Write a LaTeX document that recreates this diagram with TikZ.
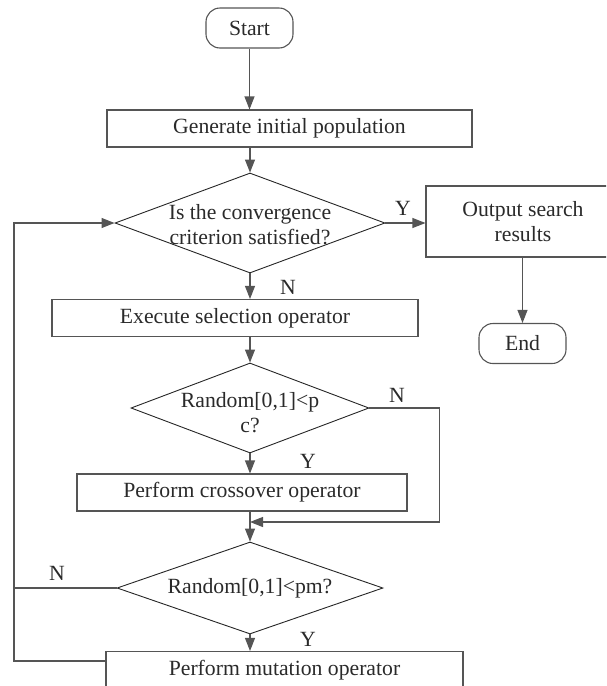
\documentclass[tikz,border=0pt]{standalone}
\usepackage{fontspec}
\setmainfont{Liberation Serif}
\usetikzlibrary{shapes.geometric,arrows.meta}

\definecolor{linegray}{HTML}{555555}
\definecolor{textgray}{HTML}{2A2A2A}

\tikzset{
  box/.style={draw=linegray, line width=1.1pt, minimum height=37pt, inner sep=0pt},
  term/.style={box, rounded corners=14pt, minimum width=87pt, minimum height=40pt},
  test/.style={diamond, draw=black!85, line width=0.9pt, inner sep=0pt},
  flow/.style={draw=linegray, line width=1.1pt, -{Triangle[length=13pt,width=10pt]}},
  wire/.style={draw=linegray, line width=1.1pt}
}

\begin{document}
\begin{tikzpicture}[x=1pt, y=-1pt, every node/.style={font=\fontsize{21.7}{25}\selectfont, text=textgray}]
  \useasboundingbox (0,0) rectangle (606,686);
  \clip (0,0) rectangle (606,686);

  \node[term] (start) at (249.5, 28) {Start};
  \node[box, minimum width=365pt] (init) at (289.5, 128.5) {Generate initial population};

  \node[test, minimum width=270pt, minimum height=100pt,
    label={[align=center, yshift=-2pt]center:Is the convergence\\criterion satisfied?}] (conv) at (250, 223) {};
  \node[box, minimum width=194pt, minimum height=71pt, align=center] (out) at (523, 221.5) {Output search\\results};
  \node[term] (end) at (522.5, 343.5) {End};

  \node[box, minimum width=366pt] (sel) at (235, 318) {Execute selection operator};

  \node[test, minimum width=238pt, minimum height=90pt,
    label={[align=center, yshift=-5pt]center:Random[0,1]<p\\c?}] (pc) at (250, 408) {};
  \node[box, minimum width=330pt] (cross) at (242, 492.5) {Perform crossover operator};

  \node[test, minimum width=266pt, minimum height=92pt,
    label={center:Random[0,1]<pm?}] (pm) at (250, 588) {};
  \node[box, minimum width=357pt] (mut) at (284.5, 670) {Perform mutation operator};

  \node (y1) at (403, 208) {Y};
  \node (n1) at (288, 287) {N};
  \node (n2) at (397, 395) {N};
  \node (y2) at (308, 461) {Y};
  \node (n3) at (57, 573) {N};
  \node (y3) at (308, 639) {Y};

  \coordinate (merge) at (250, 522);
  \coordinate (back) at (14, 661);

  \draw[flow] (start.south) -- (start.south |- init.north);
  \draw[flow] (init.south -| conv.north) -- (conv.north);
  \draw[flow] (conv.east) -- (conv.east -| out.west);
  \draw[flow] (out.south -| end.north) -- (end.north);
  \draw[flow] (conv.south) -- (conv.south |- sel.north);
  \draw[flow] (sel.south -| pc.north) -- (pc.north);
  \draw[flow] (pc.south) -- (pc.south |- cross.north);
  \draw[flow] (cross.south -| pm.north) -- (pm.north);
  \draw[flow] (pc.east) -- ++(70,0) |- (merge);
  \draw[flow] (pm.south) -- (pm.south |- mut.north);
  \draw[flow] (mut.west |- back) -- (back) |- (conv.west);
  \draw[wire] (pm.west) -- (pm.west -| back);
\end{tikzpicture}
\end{document}
